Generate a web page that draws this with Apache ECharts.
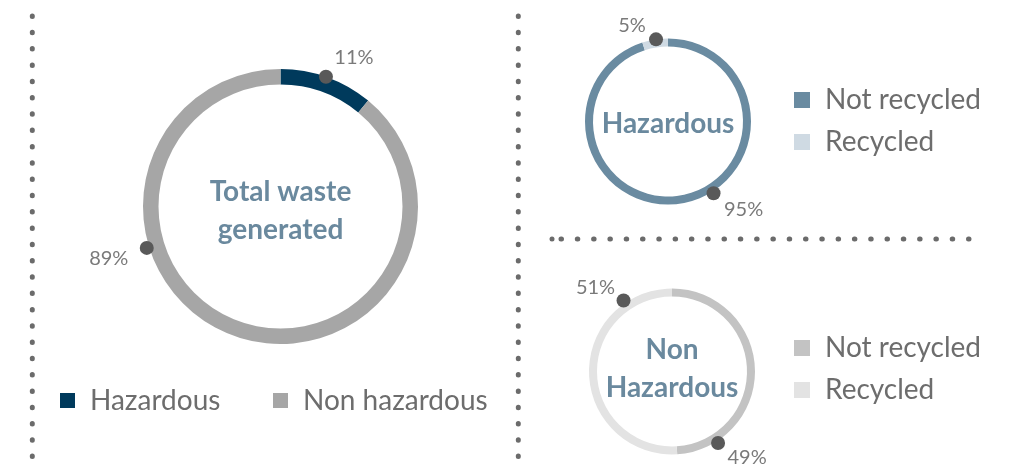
<!DOCTYPE html>
<html>
<head>
<meta charset="utf-8">
<script src="https://cdn.jsdelivr.net/npm/echarts@6/dist/echarts.min.js"></script>
<style>
  html, body { margin: 0; padding: 0; background: #fff; }
  #chart { width: 1017px; height: 464px; }
</style>
</head>
<body>
<div id="chart"></div>
<script>
// data (shares in %)
const wasteNames = ['Hazardous', 'Non hazardous'];
const wasteShare = [11, 89];
const recycleNames = ['Not recycled', 'Recycled'];
const hazardousShare = [95, 5];
const nonHazardousShare = [49, 51];

// colours
const wasteColors = ['#003a5c', '#a6a6a6'];
const hazColors = ['#6a8ba1', '#cfdae3'];
const nonHazColors = ['#c3c3c3', '#e3e3e3'];
const titleColor = '#6a899e';
const font = 'Lato';

// layout of the three rings and where the % callouts sit (angle clockwise from 12 o'clock)
const rings = [
  { center: [280.5, 206.5], radius: [122, 137.5], title: 'Total waste\ngenerated', titleY: 211,
    anchors: [{ angle: 19.3, r: 137.5, offset: [28, -19] }, { angle: 252.8, r: 140, offset: [-38, 11] }] },
  { center: [668, 121.5], radius: [75, 83], title: 'Hazardous', titleY: 124,
    anchors: [{ angle: 147.6, r: 85, offset: [30, 16] }, { angle: 351.7, r: 83, offset: [-24, -14] }] },
  { center: [672, 371.5], radius: [75, 83], title: 'Non\nHazardous', titleY: 368.5,
    anchors: [{ angle: 147.2, r: 85, offset: [29, 15] }, { angle: 325.7, r: 86, offset: [-28, -13] }] }
];
const ringData = [
  { names: wasteNames, values: wasteShare, colors: wasteColors },
  { names: recycleNames, values: hazardousShare, colors: hazColors },
  { names: recycleNames, values: nonHazardousShare, colors: nonHazColors }
];

const chart = echarts.init(document.getElementById('chart'));

const series = [];
const polar = [];
const angleAxis = [];
const radiusAxis = [];

ringData.forEach((d, i) => {
  const ring = rings[i];
  series.push({
    type: 'pie',
    center: ring.center,
    radius: ring.radius,
    startAngle: 90,
    clockwise: true,
    silent: true,
    label: { show: false },
    labelLine: { show: false },
    itemStyle: { borderWidth: 0 },
    data: d.names.map((n, k) => ({ name: n, value: d.values[k], itemStyle: { color: d.colors[k] } }))
  });

  // callout dots on a polar grid sharing the ring's centre
  polar.push({ center: ring.center, radius: 150 });
  angleAxis.push({ polarIndex: i, type: 'value', min: 0, max: 360, startAngle: 90, clockwise: true, show: false });
  radiusAxis.push({ polarIndex: i, type: 'value', min: 0, max: 150, show: false });
  series.push({
    type: 'scatter',
    coordinateSystem: 'polar',
    polarIndex: i,
    symbol: 'circle',
    symbolSize: 14,
    silent: true,
    z: 5,
    itemStyle: { color: '#595959', opacity: 1 },
    data: d.values.map((v, k) => ({
      value: [ring.anchors[k].r, ring.anchors[k].angle],
      label: {
        show: true,
        position: 'inside',
        offset: ring.anchors[k].offset,
        formatter: v + '%',
        color: '#7a7a7a',
        fontSize: 20,
        fontFamily: font
      }
    }))
  });
});

const legendText = { color: '#6d6d6d', fontSize: 28, fontFamily: font, lineHeight: 30, padding: [0, 0, 0, 10] };

const legend = [
  { data: [wasteNames[0]], left: 60, top: 385.5, padding: 0, itemWidth: 15, itemHeight: 15, icon: 'rect', textStyle: legendText, selectedMode: false },
  { data: [wasteNames[1]], left: 273, top: 385.5, padding: 0, itemWidth: 15, itemHeight: 15, icon: 'rect', textStyle: legendText, selectedMode: false },
  { data: recycleNames.map((n, k) => ({ name: n, itemStyle: { color: hazColors[k] } })),
    orient: 'vertical', left: 794, top: 85, itemGap: 12, padding: 0, itemWidth: 16, itemHeight: 16, icon: 'rect', textStyle: legendText, selectedMode: false },
  { data: recycleNames.map((n, k) => ({ name: n, itemStyle: { color: nonHazColors[k] } })),
    orient: 'vertical', left: 794, top: 333, itemGap: 12, padding: 0, itemWidth: 16, itemHeight: 16, icon: 'rect', textStyle: legendText, selectedMode: false }
];

const dotted = { stroke: '#6b6b6b', lineWidth: 5, lineDash: [0.5, 15.8], lineCap: 'round' };

const graphic = [
  { type: 'line', shape: { x1: 32.3, y1: 16, x2: 32.3, y2: 470 }, style: dotted, silent: true },
  { type: 'line', shape: { x1: 518.3, y1: 16, x2: 518.3, y2: 470 }, style: dotted, silent: true },
  { type: 'line', shape: { x1: 561, y1: 239, x2: 976, y2: 239 }, style: dotted, silent: true },
  { type: 'circle', shape: { cx: 552, cy: 239, r: 2.5 }, style: { fill: '#6b6b6b' }, silent: true }
].concat(rings.map(ring => ({
  type: 'text',
  x: ring.center[0],
  y: ring.titleY,
  silent: true,
  style: {
    text: ring.title,
    fill: titleColor,
    font: 'bold 28px ' + font,
    align: 'center',
    verticalAlign: 'middle',
    lineHeight: 38
  }
})));

chart.setOption({
  backgroundColor: '#fff',
  animation: false,
  polar: polar,
  angleAxis: angleAxis,
  radiusAxis: radiusAxis,
  legend: legend,
  graphic: graphic,
  series: series
});
</script>
</body>
</html>
